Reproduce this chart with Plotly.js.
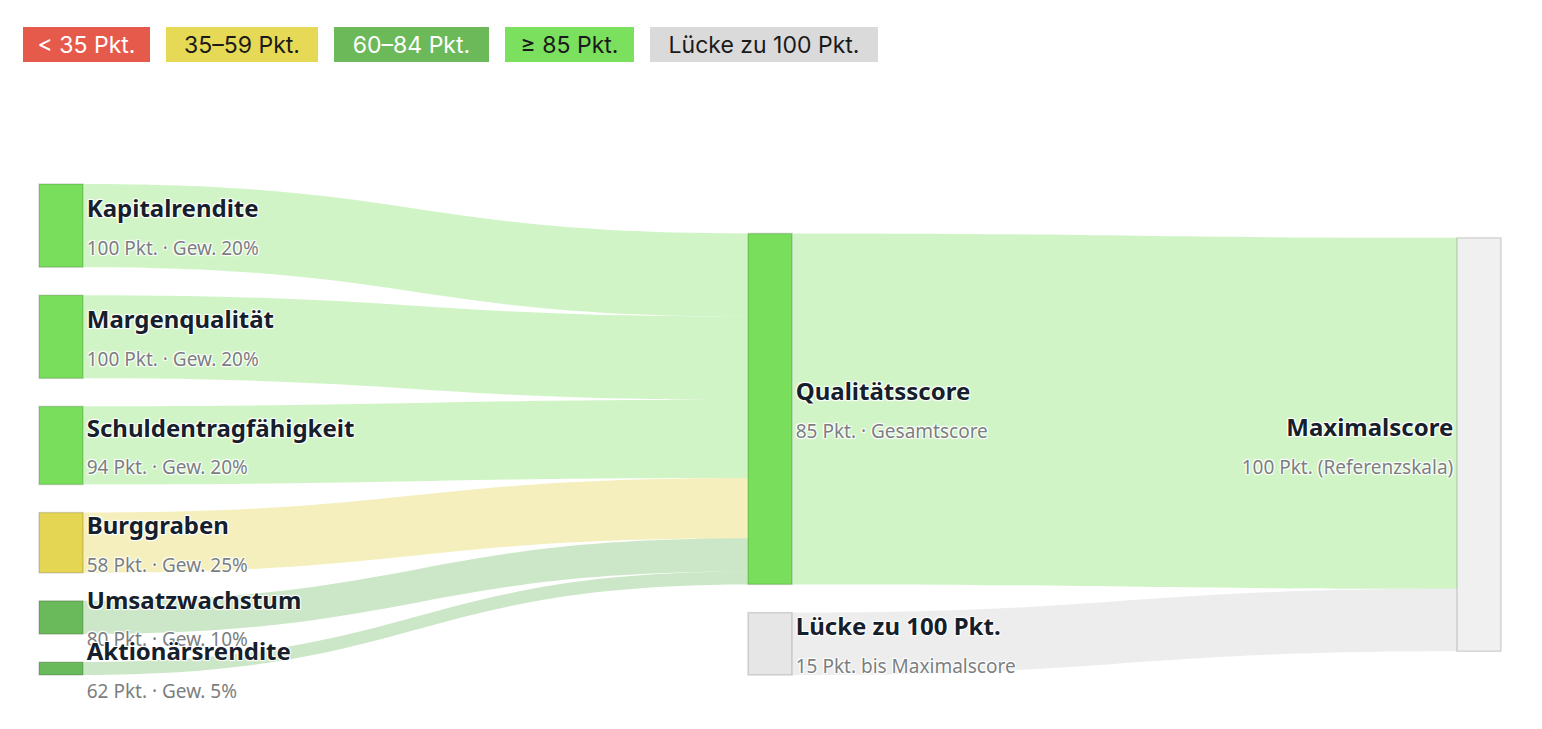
<!DOCTYPE html>
<html>
<head>
<meta charset="utf-8">
<script src="https://cdn.plot.ly/plotly-3.0.1.min.js"></script>
<style>
html,body{margin:0;padding:0;background:#fff;}
#chart{width:1542px;height:729px;}
</style>
</head>
<body>
<div id="chart"></div>
<script>
// ---- data ----
const nodeNames = ['Kapitalrendite','Margenqualität','Schuldentragfähigkeit','Burggraben','Umsatzwachstum','Aktionärsrendite','Qualitätsscore','Lücke zu 100 Pkt.','Maximalscore'];
const nodeSubtitles = ['100 Pkt. · Gew. 20%','100 Pkt. · Gew. 20%','94 Pkt. · Gew. 20%','58 Pkt. · Gew. 25%','80 Pkt. · Gew. 10%','62 Pkt. · Gew. 5%','85 Pkt. · Gesamtscore','15 Pkt. bis Maximalscore','100 Pkt. (Referenzskala)'];
const nodeColors = ['#78de5c','#78de5c','#78de5c','#e4d552','#6ab95a','#6ab95a','#78de5c','#e6e6e6','#f0f0f0'];
const linkSources = [0,1,2,3,4,5,6,7];
const linkTargets = [6,6,6,6,6,6,8,8];
const linkValues = [20,20,18.8,14.5,8,3.1,84.4,15];
const linkColors = ['rgba(120,222,92,0.34)','rgba(120,222,92,0.34)','rgba(120,222,92,0.34)','rgba(228,213,82,0.38)','rgba(106,185,90,0.34)','rgba(106,185,90,0.34)','rgba(120,222,92,0.34)','rgba(200,200,200,0.32)'];
const legendLabels = ['< 35 Pkt.','35–59 Pkt.','60–84 Pkt.','≥ 85 Pkt.','Lücke zu 100 Pkt.'];
const legendColors = ['#e65a4c','#e5d955','#6cb95a','#7ae05e','#dadada'];
const legendTextColors = ['#ffffff','#1a1a1a','#ffffff','#1a1a1a','#1a1a1a'];
const legendWidths = [127,152,155,129,228];

const labels = nodeNames.map((n,i) =>
  '<span style="font-size:24px;font-weight:bold;color:#15202b">' + n + '</span><br>' +
  '<span style="font-size:19px;color:#7b7f80">' + nodeSubtitles[i] + '</span>');

const trace = {
  type: 'sankey',
  orientation: 'h',
  arrangement: 'snap',
  hoverinfo: 'skip',
  domain: {x:[0,1], y:[0,1]},
  node: {
    label: labels,
    color: nodeColors,
    line: {color: 'rgba(0,0,0,0.14)', width: 1.5},
    thickness: 44,
    pad: 28,
    align: 'right',
    hoverinfo: 'skip'
  },
  link: {
    source: linkSources,
    target: linkTargets,
    value: linkValues,
    color: linkColors,
    hoverinfo: 'skip'
  },
  textfont: {family: '"Noto Sans", sans-serif', size: 29, color: '#15202b'}
};

// legend chips as annotations (pixel offsets from paper origin)
const marginL = 39, marginT = 184;
const annotations = [];
let px = 23;
legendLabels.forEach((t,i) => {
  annotations.push({
    xref: 'paper', yref: 'paper', x: 0, y: 1,
    xanchor: 'left', yanchor: 'middle',
    xshift: px - marginL, yshift: marginT - 44.5,
    text: t, showarrow: false,
    bgcolor: legendColors[i], bordercolor: legendColors[i], borderwidth: 0,
    borderpad: 0, width: legendWidths[i], height: 35, align: 'center', valign: 'middle',
    font: {family: 'Inter, "Noto Sans", sans-serif', size: 23, color: legendTextColors[i]}
  });
  px += legendWidths[i] + 16;
});

const layout = {
  width: 1542, height: 729,
  margin: {l: marginL, r: 41, t: marginT, b: 54},
  paper_bgcolor: '#ffffff',
  plot_bgcolor: '#ffffff',
  font: {family: '"Noto Sans", sans-serif'},
  annotations: annotations,
  showlegend: false
};

Plotly.newPlot('chart', [trace], layout, {displayModeBar: false});
</script>
</body>
</html>
